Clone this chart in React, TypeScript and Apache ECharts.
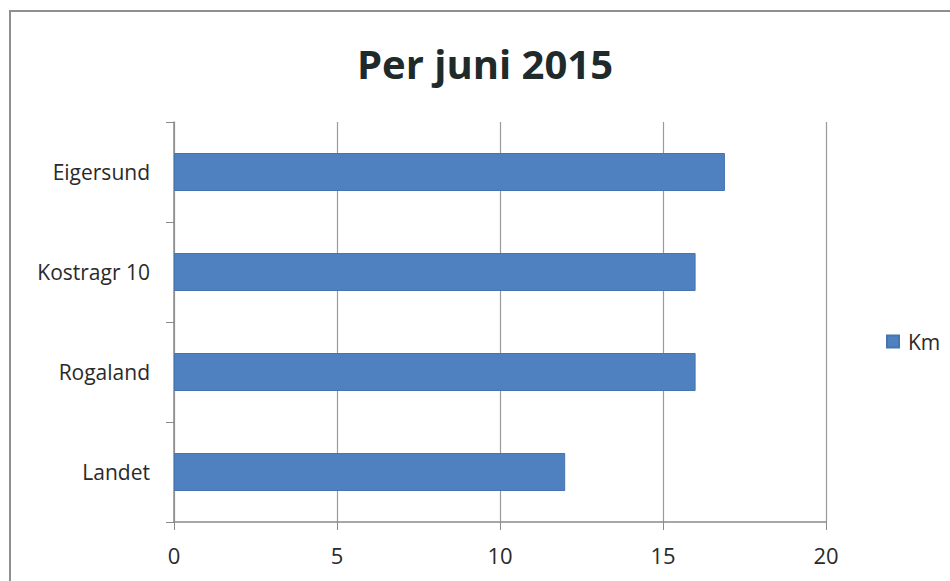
import React, { useEffect, useRef } from "react";
import * as echarts from "echarts";

const categories = ["Landet", "Rogaland", "Kostragr 10", "Eigersund"];
const kmValues = [12, 16, 16, 16.9];
const seriesName = "Km";
const titleText = "Per juni 2015";

export default function App() {
  const ref = useRef<HTMLDivElement>(null);
  useEffect(() => {
    const chart = echarts.init(ref.current!, null, { renderer: "svg" });
    const font = "'Open Sans', 'Noto Sans', sans-serif";
    chart.setOption({
      animation: false,
      backgroundColor: "#ffffff",
      title: {
        text: titleText,
        left: 480,
        textAlign: "center",
        top: 38,
        textStyle: { fontFamily: font, fontSize: 40, fontWeight: "bold", color: "#1f2a2a" },
      },
      legend: {
        data: [seriesName],
        left: 881,
        top: 326,
        orient: "vertical",
        icon: "rect",
        itemWidth: 12,
        itemHeight: 12,
        itemGap: 6,
        textStyle: { fontFamily: font, fontSize: 21, color: "#2a2a2a", padding: [0, 0, 0, 4] },
      },
      grid: { left: 174, right: 124, top: 122, bottom: 59 },
      xAxis: {
        type: "value",
        min: 0,
        max: 20,
        interval: 5,
        axisLine: { show: true, lineStyle: { color: "#8a8a8a", width: 1.5 } },
        axisTick: { show: true, length: 8, lineStyle: { color: "#8a8a8a" } },
        splitLine: { show: true, lineStyle: { color: "#9a9a9a", width: 1.2 } },
        axisLabel: { fontFamily: font, fontSize: 22, color: "#2a2a2a", margin: 22 },
      },
      yAxis: {
        type: "category",
        data: categories,
        axisLine: { show: true, lineStyle: { color: "#8a8a8a", width: 1.5 } },
        axisTick: { show: true, length: 8, alignWithLabel: false, lineStyle: { color: "#8a8a8a" } },
        axisLabel: { fontFamily: font, fontSize: 21, color: "#2a2a2a", margin: 24 },
      },
      series: [
        {
          name: seriesName,
          type: "bar",
          data: kmValues,
          barWidth: "38%",
          itemStyle: { color: "#4f80bf", borderColor: "#4674b0", borderWidth: 1 },
        },
      ],
      graphic: [
        {
          type: "rect",
          shape: { x: 10, y: 11, width: 960, height: 600 },
          style: { fill: "none", stroke: "#8f8f8f", lineWidth: 2 },
          silent: true,
        },
      ],
    });
    return () => chart.dispose();
  }, []);
  return (
    <div
      ref={ref}
      style={{ position: "fixed", left: 0, top: 0, width: 950, height: 581 }}
    />
  );
}
